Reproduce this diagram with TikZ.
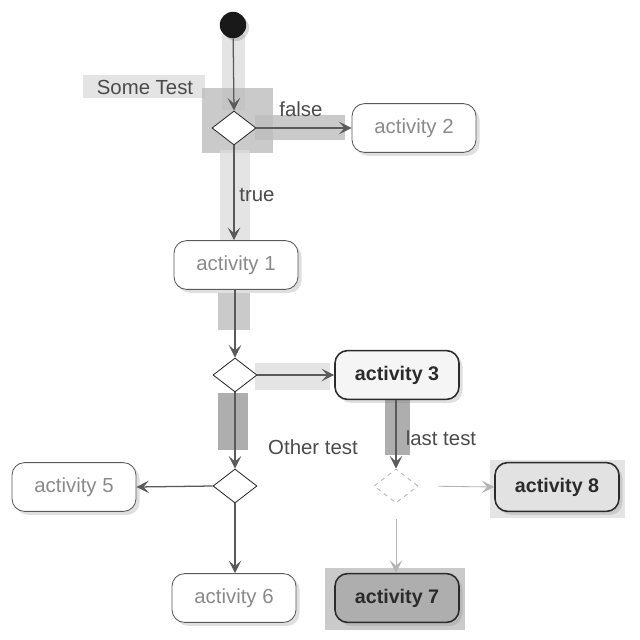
\documentclass[tikz,border=0pt]{standalone}
\usepackage{fontspec}
\setmainfont{Liberation Sans}
\usepackage{tikz}
\usetikzlibrary{arrows.meta,positioning,shapes.geometric,shadows}
\definecolor{Ink}{HTML}{2B2B2B}
\definecolor{InkSoft}{HTML}{8A8A8A}
\definecolor{LineGrey}{HTML}{5A5A5A}
\definecolor{LineLight}{HTML}{B4B4B4}
\definecolor{HiLight}{HTML}{DCDCDC}
\definecolor{HiMid}{HTML}{BDBDBD}
\definecolor{HiDark}{HTML}{9A9A9A}
\definecolor{FillSeven}{HTML}{AEAEAE}
\definecolor{FillEight}{HTML}{E2E2E2}

\begin{document}
\begin{tikzpicture}[
    x=0.025cm, y=-0.025cm,
    every node/.style={font=\fontsize{14.5}{17}\selectfont},
    act/.style={
      draw=LineGrey,
      fill=white,
      rounded corners=9pt,
      line width=0.6pt,
      minimum width=3.1cm,
      minimum height=1.22cm,
      text=InkSoft,
      drop shadow={opacity=0.25,shadow xshift=2.5pt,shadow yshift=-2.5pt}
    },
    actstrong/.style={act,draw=Ink,line width=1.1pt,text=Ink,font=\fontsize{14}{17}\selectfont\bfseries},
    choice/.style={
      diamond,
      draw=Ink,
      fill=white,
      aspect=1.3,
      inner sep=0pt,
      minimum width=1.1cm,
      minimum height=0.85cm,
      line width=0.6pt
    },
    flow/.style={draw=LineGrey,line width=0.9pt,-{Stealth[length=9pt,width=9pt,inset=4pt]}},
    flowsoft/.style={flow,draw=LineLight,line width=0.6pt},
    hl/.style={fill=HiLight,opacity=0.75},
    hlmid/.style={fill=HiMid,opacity=0.8},
    hldark/.style={fill=HiDark,opacity=0.8},
    tag/.style={text=Ink!85}
  ]
  \useasboundingbox[fill=white] (0,0) rectangle (640,640);

  % highlight strips
  \fill[hl] (222,35) rectangle (245,110);
  \fill[hl] (83,75) rectangle (205,98);
  \fill[hlmid] (202,88) rectangle (273,153);
  \fill[hlmid] (255,115) rectangle (345,140);
  \fill[hl] (220,150) rectangle (250,240);
  \fill[hlmid] (218,293) rectangle (250,330);
  \fill[hl] (255,363) rectangle (330,390);
  \fill[hldark] (218,393) rectangle (248,450);
  \fill[hldark] (385,400) rectangle (410,455);
  \fill[hl] (490,460) rectangle (625,518);
  \fill[hlmid] (325,568) rectangle (465,630);

  % nodes
  \node[circle,fill=black!90,minimum size=0.66cm,inner sep=0pt,
        drop shadow={opacity=0.3,shadow xshift=2pt,shadow yshift=-2pt}] (start) at (233,25) {};
  \node[choice] (sometest) at (234,128) {};
  \node[act] (actb) at (414,128) {activity 2};
  \node[act] (acta) at (236,265) {activity 1};
  \node[choice] (split) at (235,375) {};
  \node[actstrong,fill=white!96!black] (actc) at (397,375) {activity 3};
  \node[choice] (othertest) at (235,486) {};
  \node[act] (acte) at (74,487) {activity 5};
  \node[act] (actf) at (234,598) {activity 6};
  \node[choice,draw=LineLight,dashed] (lasttest) at (396,486) {};
  \node[actstrong,fill=FillEight] (acth) at (557,487) {activity 8};
  \node[actstrong,fill=FillSeven] (actg) at (397,598) {activity 7};

  % labels
  \node[tag] (sometestlbl) at (145,87) {Some Test};
  \node[tag] (falselbl) at (301,109) {false};
  \node[tag] (truelbl) at (257,195) {true};
  \node[tag] (otherlbl) at (313,447) {Other test};
  \node[tag] (lastlbl) at (441,438) {last test};

  % connectors
  \draw[flow] (start) -- (sometest.north);
  \draw[flow] (sometest.east) -- (actb.west);
  \draw[flow] (sometest.south) -- (acta.north -| sometest.south);
  \draw[flow] (acta.south -| split.north) -- (split.north);
  \draw[flow] (split.east) -- (actc.west);
  \draw[flow] (split.south) -- (othertest.north);
  \draw[flow] (othertest.west) -- (acte.east);
  \draw[flow] (othertest.south) -- (actf.north -| othertest.south);
  \draw[flow] (actc.south -| lasttest.north) -- (lasttest.north);
  \draw[flowsoft,shorten <=0.5cm] (lasttest.east) -- (acth.west);
  \draw[flowsoft,shorten <=0.4cm] (lasttest.south) -- (actg.north -| lasttest.south);
\end{tikzpicture}
\end{document}
